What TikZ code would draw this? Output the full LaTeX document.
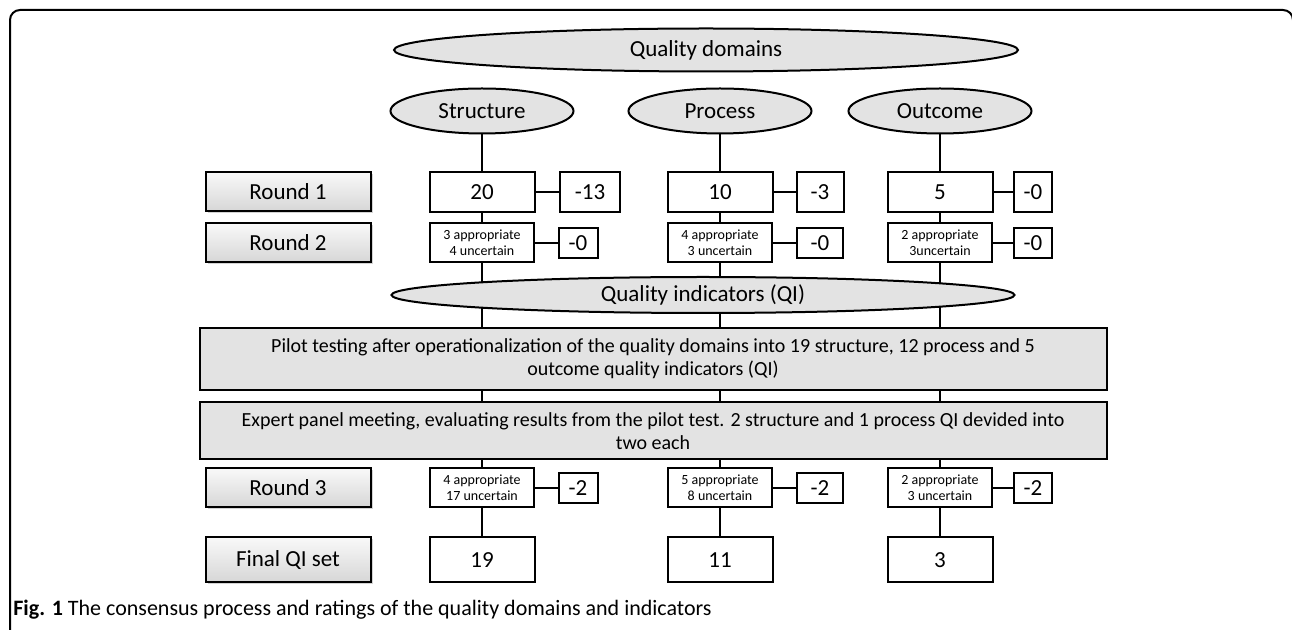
\documentclass[tikz,border=0pt]{standalone}
\usepackage{fontspec}
\setmainfont{Carlito}
\usetikzlibrary{shapes.geometric,backgrounds,shadows}

\tikzset{
  domshape/.style={ellipse, draw, line width=1pt, fill=gray!22, inner sep=0pt,
    font=\fontsize{11.5}{13}\selectfont},
  roundbox/.style={rectangle, draw, line width=1pt, top color=gray!5, bottom color=gray!32,
    minimum width=82.5pt, minimum height=19.5pt, inner sep=0pt,
    drop shadow={opacity=0.35, shadow xshift=1pt, shadow yshift=-1pt},
    font=\fontsize{11.5}{13}\selectfont},
  countbox/.style={rectangle, draw, line width=1pt, fill=white, inner sep=0pt,
    minimum width=52.5pt, minimum height=20pt, font=\fontsize{11.5}{13}\selectfont},
  ratebox/.style={rectangle, draw, line width=1pt, fill=white, inner sep=0pt,
    minimum width=52pt, minimum height=19.5pt, align=center,
    font=\fontsize{7}{8}\selectfont},
  dropbox/.style={rectangle, draw, line width=1pt, fill=white, inner sep=0pt,
    minimum height=15pt, font=\fontsize{11.5}{13}\selectfont},
  widebox/.style={rectangle, draw, line width=1pt, fill=gray!22, inner sep=0pt,
    minimum width=453.5pt, align=center, font=\fontsize{10}{11.5}\selectfont},
  link/.style={line width=1pt}
}

\begin{document}
\begin{tikzpicture}[x=0.5pt,y=-0.5pt]
  \useasboundingbox (0,0) rectangle (1292,630);
  % frame
  \draw[line width=1pt, rounded corners=5pt] (10,660) -- (10,10) -- (1293,10) -- (1293,660);

  % domains
  \node[domshape, minimum width=312pt, minimum height=21.5pt] (qd) at (706,50) {Quality domains};
  \node[domshape, minimum width=91.5pt, minimum height=22.5pt] (str) at (482,111) {Structure};
  \node[domshape, minimum width=91.5pt, minimum height=22.5pt] (pro) at (720,111) {Process};
  \node[domshape, minimum width=91.5pt, minimum height=22.5pt] (out) at (940,111) {Outcome};

  % row labels
  \node[roundbox] (r1) at (288,192) {Round 1};
  \node[roundbox] (r2) at (288,243) {Round 2};
  \node[roundbox] (r3) at (288,488) {Round 3};
  \node[roundbox, minimum height=22.5pt] (fin) at (288,560) {Final QI set};

  % round 1
  \node[countbox] (s1) at (482,192) {20};
  \node[countbox] (p1) at (720,192) {10};
  \node[countbox] (o1) at (940,192) {5};
  \node[dropbox, minimum width=30pt, minimum height=20pt] (s1x) at (590,192) {-13};
  \node[dropbox, minimum width=23.5pt, minimum height=20pt] (p1x) at (820,192) {-3};
  \node[dropbox, minimum width=19pt, minimum height=20pt] (o1x) at (1033,192) {-0};

  % round 2
  \node[ratebox] (s2) at (482,243) {3 appropriate\\4 uncertain};
  \node[ratebox] (p2) at (720,243) {4 appropriate\\3 uncertain};
  \node[ratebox] (o2) at (940,243) {2 appropriate\\3uncertain};
  \node[dropbox, minimum width=19.5pt] (s2x) at (578,243) {-0};
  \node[dropbox, minimum width=23pt] (p2x) at (820,243) {-0};
  \node[dropbox, minimum width=19pt] (o2x) at (1033,243) {-0};

  % indicators
  \node[domshape, minimum width=311.5pt, minimum height=18pt] (qi) at (703,295) {Quality indicators (QI)};
  \node[widebox, minimum height=31pt] (pilot) at (653,359) {Pilot testing after operationalization of the quality domains into 19 structure, 12 process and 5\\outcome quality indicators (QI)};
  \node[widebox, minimum height=28.5pt] (panel) at (653,431) {Expert panel meeting, evaluating results from the pilot test. 2 structure and 1 process QI devided into\\two each};

  % round 3
  \node[ratebox] (s3) at (482,488) {4 appropriate\\17 uncertain};
  \node[ratebox] (p3) at (720,488) {5 appropriate\\8 uncertain};
  \node[ratebox] (o3) at (940,488) {2 appropriate\\3 uncertain};
  \node[dropbox, minimum width=19.5pt] (s3x) at (578,488) {-2};
  \node[dropbox, minimum width=23pt] (p3x) at (820,488) {-2};
  \node[dropbox, minimum width=19pt] (o3x) at (1033,488) {-2};

  % final set
  \node[countbox, minimum height=22.5pt] (s4) at (482,560) {19};
  \node[countbox, minimum height=22.5pt] (p4) at (720,560) {11};
  \node[countbox, minimum height=22.5pt] (o4) at (940,560) {3};

  % columns
  \begin{scope}[on background layer]
    \draw[link] (str) -- (s4);
    \draw[link] (pro) -- (p4);
    \draw[link] (out) -- (o4);
  \end{scope}
  \draw[link] (s1) -- (s1x);
  \draw[link] (p1) -- (p1x);
  \draw[link] (o1) -- (o1x);
  \draw[link] (s2) -- (s2x);
  \draw[link] (p2) -- (p2x);
  \draw[link] (o2) -- (o2x);
  \draw[link] (s3) -- (s3x);
  \draw[link] (p3) -- (p3x);
  \draw[link] (o3) -- (o3x);

  % caption
  \node[anchor=west, inner sep=0pt, font=\fontsize{11}{13}\selectfont] (cap) at (13,610)
    {\textbf{Fig. 1} The consensus process and ratings of the quality domains and indicators};
\end{tikzpicture}
\end{document}
